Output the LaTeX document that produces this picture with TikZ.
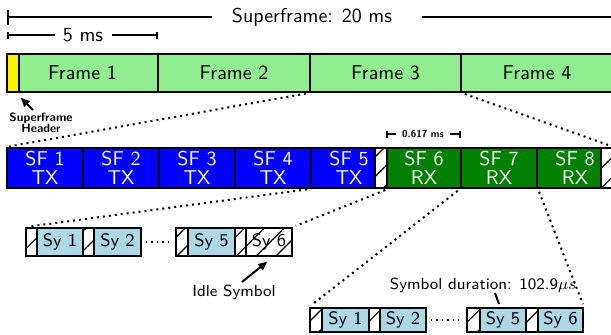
\documentclass[tikz,border=0pt]{standalone}
\usetikzlibrary{fit,patterns.meta,arrows.meta}
\definecolor{frgreen}{HTML}{90EE90}
\definecolor{rxgreen}{RGB}{0,128,0}
\definecolor{symblue}{HTML}{ADD8E6}
\begin{document}
\begin{tikzpicture}[x=0.5pt,y=-0.5pt,
  every node/.style={font=\sffamily},
  cell/.style={draw=black, line width=1pt, inner sep=0pt},
  frm/.style={cell, fill=frgreen},
  hdr/.style={cell, fill=yellow},
  sftx/.style={cell, fill=blue},
  sfrx/.style={cell, fill=rxgreen},
  sftxt/.style={text=white, align=center, inner sep=0pt, font=\sffamily\fontsize{10}{9.5}\selectfont},
  guard/.style={cell, preaction={fill=white}, pattern={Lines[angle=45,distance=7pt,line width=0.6pt]}},
  sym/.style={cell, fill=symblue},
  symtxt/.style={inner sep=0pt, font=\sffamily\small},
  conn/.style={line width=1pt, dotted, shorten <=1.5pt, shorten >=1.5pt},
  gapdots/.style={line width=0.7pt, dotted, shorten <=2pt, shorten >=2pt},
  dimline/.style={line width=1pt},
  arr/.style={line width=1pt, -{Latex[length=5pt,width=4.5pt]}}
]
\useasboundingbox (0,0) rectangle (611,334);

% ---- dimension lines on top
\node[inner xsep=10pt] (sfl) at (312,17) {Superframe: 20 ms};
\coordinate (sfa) at (7,17);
\coordinate (sfb) at (614,17);
\draw[dimline, {Bar[width=7.5pt]}-] (sfa) -- (sfl.west);
\draw[dimline] ([xshift=5pt]sfl.east) -- (sfb);

\node[inner xsep=4pt] (fml) at (83,35) {5 ms};
\coordinate (fma) at (7,35);
\coordinate (fmb) at (158,35);
\draw[line width=0.8pt, {Bar[width=3.5pt]}-] (fma) -- (fml.west);
\draw[line width=0.8pt, -{Bar[width=3.5pt]}] (fml.east) -- (fmb);

% ---- frames
\node[frm, fit={(7,54)(158,92)}] (f1) {};
\node[frm, fit={(158,54)(310,92)}] (f2) {};
\node[frm, fit={(310,54)(461,92)}] (f3) {};
\node[frm, fit={(461,54)(613,92)}] (f4) {};
\node[hdr, fit={(7,54)(19,92)}] (hd) {};
\node at (f1) {Frame 1};
\node at (f2) {Frame 2};
\node at (f3) {Frame 3};
\node at (f4) {Frame 4};

\node[font=\sffamily\bfseries\fontsize{6}{5.5}\selectfont, align=center, inner sep=0pt] (hdl) at (41,123) {Superframe\\Header};
\coordinate (hdt) at (33,110);
\coordinate (hdh) at (20,97);
\draw[arr] (hdt) -- (hdh);

% ---- subframes
\node[sftx, fit={(7,148)(83,188)}] (sf1) {};
\node[sftx, fit={(83,148)(159,188)}] (sf2) {};
\node[sftx, fit={(159,148)(235,188)}] (sf3) {};
\node[sftx, fit={(235,148)(311,188)}] (sf4) {};
\node[sftx, fit={(311,148)(387,188)}] (sf5) {};
\node[sfrx, fit={(387,148)(461,188)}] (sf6) {};
\node[sfrx, fit={(461,148)(537,188)}] (sf7) {};
\node[sfrx, fit={(537,148)(613,188)}] (sf8) {};
\node[sftxt] at (sf1) {SF 1\\TX};
\node[sftxt] at (sf2) {SF 2\\TX};
\node[sftxt] at (sf3) {SF 3\\TX};
\node[sftxt] at (sf4) {SF 4\\TX};
\node[sftxt] at (sf5) {SF 5\\TX};
\node[sftxt] at (sf6) {SF 6\\RX};
\node[sftxt] at (sf7) {SF 7\\RX};
\node[sftxt] at (sf8) {SF 8\\RX};
\node[guard, fit={(375,148)(387,188)}] (sfg5) {};
\node[guard, fit={(601,148)(613,188)}] (sfg8) {};

\draw[conn] (f3.south west) -- (sf1.north west);
\draw[conn] (f3.south east) -- (sf8.north east);

\node[font=\tiny\sffamily\bfseries, inner xsep=3pt] (dl) at (423,134) {0.617 ms};
\coordinate (d1) at (386,134);
\coordinate (d2) at (461,134);
\draw[line width=1pt, {Bar[width=3.5pt]}-] (d1) -- (dl.west);
\draw[line width=1pt, -{Bar[width=3.5pt]}] (dl.east) -- (d2);

% ---- upper symbol row (SF 5)
\node[guard, fit={(26,228)(37,256)}] (g1) {};
\node[sym, fit={(37,228)(83,256)}] (s1) {};
\node[guard, fit={(83,228)(94,256)}] (g2) {};
\node[sym, fit={(94,228)(141,256)}] (s2) {};
\node[guard, fit={(176,228)(188,256)}] (g5) {};
\node[sym, fit={(188,228)(235,256)}] (s5) {};
\node[guard, fit={(235,228)(246,256)}] (g6) {};
\node[guard, fit={(246,228)(292,256)}] (s6) {};
\node[symtxt] at (s1) {Sy 1};
\node[symtxt] at (s2) {Sy 2};
\node[symtxt] at (s5) {Sy 5};
\node[symtxt] at (s6) {Sy 6};
\draw[gapdots] (s2.east) -- (g5.west);

\draw[conn] (sf5.south west) -- (g1.north west);
\draw[conn] (sf5.south east) -- (s6.north east);

\node[font=\sffamily\footnotesize] (idl) at (234,292) {Idle Symbol};
\coordinate (ida) at (242,282);
\coordinate (idb) at (268,261);
\draw[arr] (ida) -- (idb);

% ---- lower symbol row (SF 7)
\node[guard, fit={(310,308)(322,332)}] (G1) {};
\node[sym, fit={(322,308)(369,332)}] (S1) {};
\node[guard, fit={(369,308)(380,332)}] (G2) {};
\node[sym, fit={(380,308)(426,332)}] (S2) {};
\node[guard, fit={(467,308)(480,332)}] (G5) {};
\node[sym, fit={(480,308)(526,332)}] (S5) {};
\node[guard, fit={(526,308)(538,332)}] (G6) {};
\node[sym, fit={(538,308)(583,332)}] (S6) {};
\node[symtxt] at (S1) {Sy 1};
\node[symtxt] at (S2) {Sy 2};
\node[symtxt] at (S5) {Sy 5};
\node[symtxt] at (S6) {Sy 6};
\draw[gapdots] (S2.east) -- (G5.west);

\draw[conn] (sf7.south west) -- (G1.north west);
\draw[conn] (sf7.south east) -- (S6.north east);

\node[font=\sffamily\footnotesize] (sdl) at (483,285) {Symbol duration: 102.9$\mu s$};
\coordinate (sda) at (495,293);
\coordinate (sdb) at (499,304);
\draw[line width=1pt] (sda) -- (sdb);
\end{tikzpicture}
\end{document}
